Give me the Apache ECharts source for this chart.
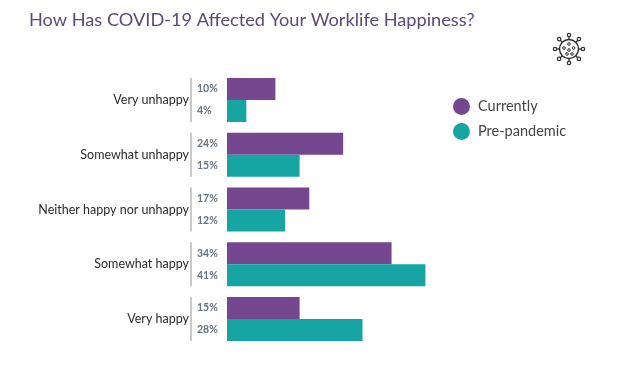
<!DOCTYPE html>
<html><head><meta charset="utf-8">
<style>html,body{margin:0;padding:0;background:#fff}#c{width:620px;height:368px}</style>
<script src="https://cdn.jsdelivr.net/npm/echarts@6/dist/echarts.min.js"></script>
</head><body><div id="c"></div>
<script>
const categories = ["Very unhappy","Somewhat unhappy","Neither happy nor unhappy","Somewhat happy","Very happy"];
const currently = [10,24,17,34,15];
const prePandemic = [4,15,12,41,28];
const seriesNames = ["Currently","Pre-pandemic"];
const colors = ["#74478f","#17a5a3"];
const font = "Lato";
const chart = echarts.init(document.getElementById('c'),null,{renderer:'canvas'});

const cx=569, cy=49, ink='#2e2e2e';
const virus=[{type:'circle',shape:{cx,cy,r:9.5},style:{fill:'none',stroke:ink,lineWidth:1.4}}];
for(let i=0;i<8;i++){
  const a=i*Math.PI/4, c=Math.cos(a), s=Math.sin(a);
  virus.push({type:'line',shape:{x1:cx+9.5*c,y1:cy+9.5*s,x2:cx+12.5*c,y2:cy+12.5*s},style:{stroke:ink,lineWidth:1.3}});
  virus.push({type:'circle',shape:{cx:cx+14*c,cy:cy+14*s,r:1.7},style:{fill:'none',stroke:ink,lineWidth:1.2}});
}
[[0,-5],[-5,-1],[4.5,-1],[0,1],[-2,5],[3,5]].forEach(p=>virus.push({type:'circle',shape:{cx:cx+p[0],cy:cy+p[1],r:1.3},style:{fill:'none',stroke:ink,lineWidth:1}}));

const valueLabel={show:true,position:[-30,'50%'],align:'left',verticalAlign:'middle',formatter:'{c}%',fontFamily:font,fontSize:10.5,fontWeight:'bold',color:'#66727e'};
chart.setOption({
  animation:false,
  backgroundColor:'#fff',
  title:{text:"How Has COVID-19 Affected Your Worklife Happiness?",left:24,top:6,textStyle:{fontFamily:font,fontSize:18.2,fontWeight:'normal',color:'#5c4a78'}},
  legend:{data:seriesNames,orient:'vertical',left:448,top:93,icon:'circle',itemWidth:17,itemHeight:17,itemGap:8,selectedMode:false,textStyle:{fontFamily:font,fontSize:14.5,color:'#444444',padding:[0,0,0,3]}},
  grid:{left:227,top:72.6,width:242,height:273.8},
  xAxis:{type:'value',min:0,max:50,show:false},
  yAxis:{type:'category',data:categories,inverse:true,axisLine:{show:false},axisTick:{show:false},axisLabel:{margin:38,fontFamily:font,fontSize:12.5,color:'#2b2b2b'}},
  series:[
    {name:seriesNames[0],type:'bar',data:currently,barWidth:22,barGap:0,itemStyle:{color:colors[0]},label:valueLabel},
    {name:seriesNames[1],type:'bar',data:prePandemic,barWidth:22,itemStyle:{color:colors[1]},label:valueLabel},
    {name:'divider',type:'custom',silent:true,clip:false,data:categories.map((c,i)=>[0,i]),encode:{x:0,y:1},z:1,
     renderItem:(p,api)=>{const o=api.coord([0,api.value(1)]);return {type:'line',shape:{x1:o[0]-36,y1:o[1]-22,x2:o[0]-36,y2:o[1]+22},style:{stroke:'#b4b8bc',lineWidth:1.5}};}}
  ],
  graphic:[{type:'group',silent:true,children:virus}]
});
</script></body></html>
